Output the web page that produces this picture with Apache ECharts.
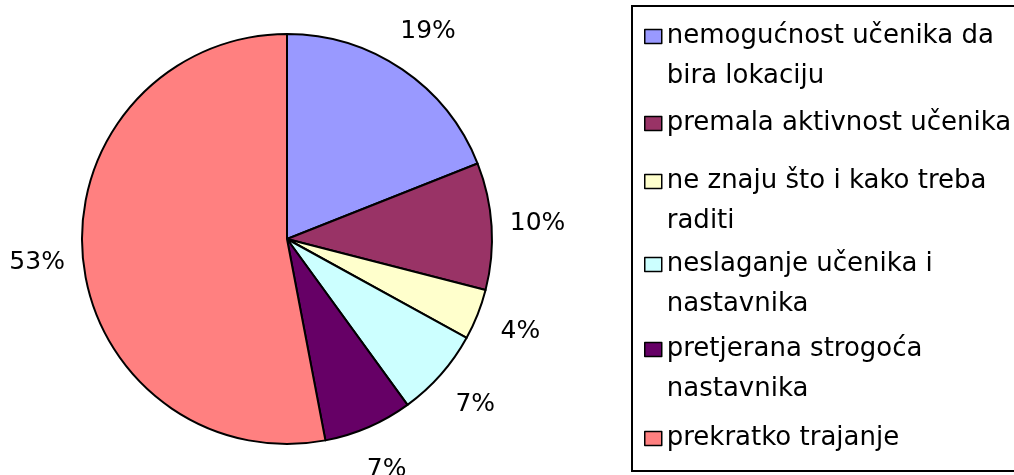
<!DOCTYPE html>
<html>
<head>
<meta charset="utf-8">
<script src="https://cdn.jsdelivr.net/npm/echarts@6/dist/echarts.min.js"></script>
<style>
html, body { margin: 0; padding: 0; background: #fff; }
#chart { width: 1014px; height: 475px; }
</style>
</head>
<body>
<div id="chart"></div>
<script>
// legend names (line breaks as in the original legend)
const categories = [
  'nemogućnost učenika da\nbira lokaciju',
  'premala aktivnost učenika',
  'ne znaju što i kako treba\nraditi',
  'neslaganje učenika i\nnastavnika',
  'pretjerana strogoća\nnastavnika',
  'prekratko trajanje'
]
// shares in percent
const percents = [19, 10, 4, 7, 7, 53]
const colors = ['#9999FF', '#993366', '#FFFFCC', '#CCFFFF', '#660066', '#FF8080']

const font = 'DejaVu Sans'
const lineH = 40
// centre of the first text line of every legend entry
const legendRows = [34, 121, 179, 262, 347, 436]

const chart = echarts.init(document.getElementById('chart'))

const pieData = categories.map((name, i) => ({
  name: name,
  value: percents[i],
  itemStyle: { color: colors[i] }
}))

// one legend per entry; two-line entries get a blank line on top so
// the marker lines up with the first line of text
const legends = categories.map((name, i) => {
  const twoLines = name.indexOf('\n') >= 0
  return {
    data: [name],
    left: 644,
    top: legendRows[i] - (twoLines ? lineH + 17.5 : 17.5),
    padding: 0,
    icon: 'rect',
    itemWidth: 17,
    itemHeight: 14,
    selectedMode: false,
    formatter: n => (twoLines ? ' \n' + n : n),
    itemStyle: { borderColor: '#000', borderWidth: 1.5 },
    textStyle: {
      fontFamily: font,
      fontSize: 26,
      color: '#000',
      lineHeight: lineH
    }
  }
})

chart.setOption({
  backgroundColor: '#FFFFFF',
  animation: false,
  legend: legends,
  graphic: [{
    type: 'rect',
    shape: { x: 632, y: 6, width: 430, height: 465 },
    style: { fill: 'none', stroke: '#000', lineWidth: 2 },
    silent: true
  }],
  series: [{
    type: 'pie',
    center: [287, 239],
    radius: 205,
    startAngle: 90,
    clockwise: true,
    label: { show: false },
    labelLine: { show: false },
    emphasis: { disabled: true },
    itemStyle: { borderColor: '#000', borderWidth: 2 },
    data: pieData
  },
  {
    // invisible ring that only carries the percentage labels
    type: 'pie',
    center: [287, 239],
    radius: [206, 290],
    startAngle: 90,
    clockwise: true,
    silent: true,
    emphasis: { disabled: true },
    itemStyle: { color: 'rgba(0,0,0,0)', borderWidth: 0 },
    label: {
      show: true,
      position: 'inside',
      formatter: '{c}%',
      fontFamily: font,
      fontSize: 25,
      color: '#000'
    },
    labelLine: { show: false },
    data: categories.map((name, i) => ({ name: name, value: percents[i] }))
  }]
})
</script>
</body>
</html>
